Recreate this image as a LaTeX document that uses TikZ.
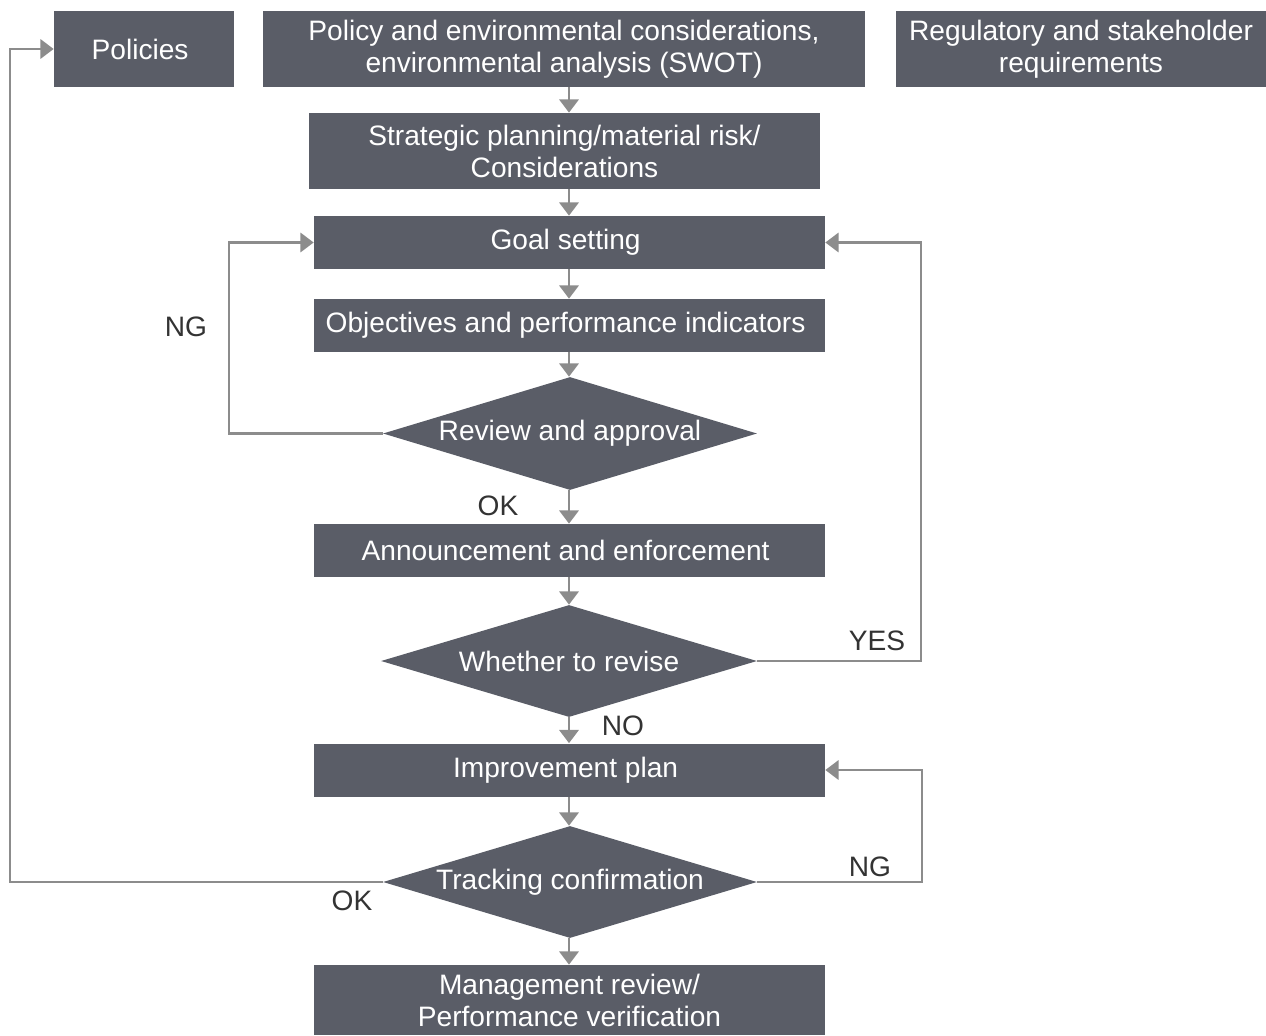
\documentclass[tikz,border=0pt]{standalone}
\usepackage{fontspec}
\setmainfont{Liberation Sans}
\usepackage{tikz}
\usetikzlibrary{arrows.meta, shapes.geometric}
\definecolor{boxgray}{HTML}{5A5D67}
\definecolor{linegray}{HTML}{8C8C8C}
\definecolor{labelgray}{HTML}{333333}
\tikzset{>={Triangle[width=11pt,length=7.5pt]}}
\tikzset{
  box/.style={fill=boxgray, text=white, align=center, inner sep=0pt,
    minimum width=10.22cm, minimum height=1.06cm,
    font=\fontsize{16}{18.2}\selectfont},
  decide/.style={diamond, fill=boxgray, text=white, inner sep=0pt,
    minimum width=7.48cm, minimum height=2.26cm, shape aspect=3.3,
    font=\fontsize{16}{18.2}\selectfont},
  flow/.style={linegray, line width=1.2pt, ->},
  tag/.style={text=labelgray, font=\fontsize{16}{18}\selectfont}
}

\begin{document}
\begin{tikzpicture}
  \useasboundingbox (0, 0) rectangle (25.32, -20.7);

      \node[box, minimum width=3.6cm, minimum height=1.52cm] (pol) at (2.88, -0.98) { Policies };
      \node[box, minimum width=12.04cm, minimum height=1.52cm] (env) at (11.28, -0.98)
        { Policy and environmental considerations,\\ environmental analysis (SWOT) };
      \node[box, minimum width=7.4cm, minimum height=1.52cm] (req) at (21.62, -0.98)
        { Regulatory and stakeholder\\ requirements };
      \node[box, minimum height=1.52cm] (plan) at (11.29, -3.02)
        { Strategic planning/material risk/\\ Considerations };
      \node[box] (goal) at (11.39, -4.85) { Goal setting };
      \node[box] (obj) at (11.39, -6.51) { Objectives and performance indicators };
      \node[decide] (rev) at (11.4, -8.67) { Review and approval };
      \node[box] (ann) at (11.39, -11.01) { Announcement and enforcement };
      \node[decide, minimum width=7.52cm, minimum height=2.24cm] (wtr) at (11.38, -13.22) { Whether to revise };
      \node[box] (imp) at (11.39, -15.4) { Improvement plan };
      \node[decide, minimum height=2.24cm] (trk) at (11.4, -17.64) { Tracking confirmation };
      \node[box, minimum height=1.4cm] (mgt) at (11.39, -20.0)
        { Management review/\\ Performance verification };

      % main line, all on one vertical
      \coordinate (ax) at (11.38, 0);
      \draw[flow] (env.south -| ax) to (plan.north -| ax);
      \draw[flow] (plan.south -| ax) to (goal.north -| ax);
      \draw[flow] (goal.south -| ax) to (obj.north -| ax);
      \draw[flow] (obj.south -| ax) to (rev.north -| ax);
      \draw[flow] (rev.south -| ax) to (ann.north -| ax);
      \draw[flow] (ann.south -| ax) to (wtr.north -| ax);
      \draw[flow] (wtr.south -| ax) to (imp.north -| ax);
      \draw[flow] (imp.south -| ax) to (trk.north -| ax);
      \draw[flow] (trk.south -| ax) to (mgt.north -| ax);

      % loops back
      \draw[flow] (rev.west) -- ++(-3.08, 0) |- (goal.west);
      \draw[flow] (wtr.east) -- ++(3.28, 0) |- (goal.east);
      \draw[flow] (trk.east) -- ++(3.3, 0) |- (imp.east);
      \draw[flow] (trk.west) -- ++(-7.46, 0) |- (pol.west);

      \node[tag] (ng1) at (3.72, -6.54) { NG };
      \node[tag] (ok1) at (9.96, -10.12) { OK };
      \node[tag] (yes) at (17.54, -12.82) { YES };
      \node[tag] (no) at (12.46, -14.52) { NO };
      \node[tag] (ng2) at (17.4, -17.34) { NG };
      \node[tag] (ok2) at (7.04, -18.02) { OK };
  \end{tikzpicture}
\end{document}
